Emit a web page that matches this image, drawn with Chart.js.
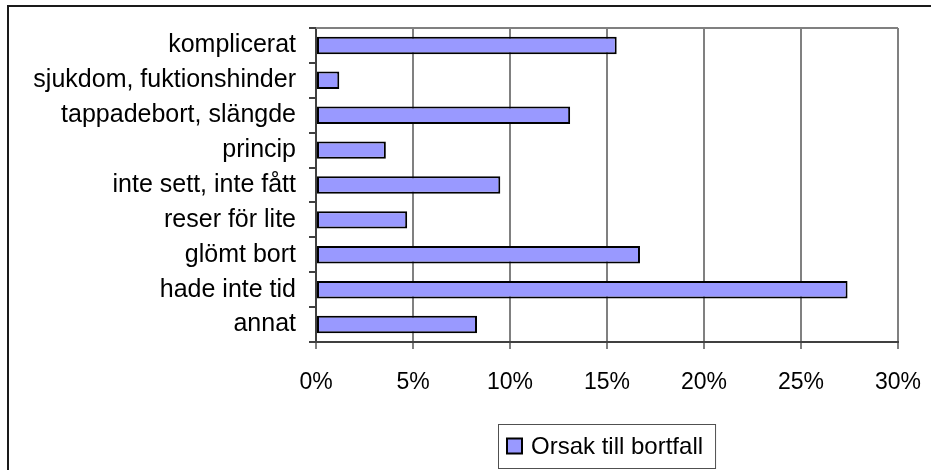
<!DOCTYPE html>
<html>
<head>
<meta charset="utf-8">
<script src="https://cdn.jsdelivr.net/npm/chart.js@4/dist/chart.umd.min.js"></script>
<style>
  body { margin: 0; overflow: hidden; background: #fff; }
  #wrap { position: relative; width: 931px; height: 470px; }
  #frame { position: absolute; left: 7px; top: 5px; width: 1000px; height: 1000px; border: 2px solid #1a1a1a; pointer-events: none; }
</style>
</head>
<body>
<div id="wrap">
  <canvas id="myChart"></canvas>
  <div id="frame"></div>
</div>
<script>
// data
const categories = ['komplicerat', 'sjukdom, fuktionshinder', 'tappadebort, slängde', 'princip',
  'inte sett, inte fått', 'reser för lite', 'glömt bort', 'hade inte tid', 'annat'];
const values = [15.5, 1.2, 13.1, 3.6, 9.5, 4.7, 16.7, 27.4, 8.3];
const seriesName = 'Orsak till bortfall';
const xMin = 0, xMax = 30, xStep = 5;

const fontFamily = 'Arial, "Liberation Sans", sans-serif';
Chart.defaults.font.family = fontFamily;
Chart.defaults.font.size = 23;
Chart.defaults.color = '#000';

// grey line along the top of the plot area
const topBorder = {
  id: 'topBorder',
  afterDraw(chart) {
    const a = chart.chartArea, ctx = chart.ctx;
    ctx.save();
    ctx.strokeStyle = '#808080';
    ctx.lineWidth = 2;
    ctx.beginPath();
    ctx.moveTo(a.left, a.top);
    ctx.lineTo(a.right, a.top);
    ctx.stroke();
    ctx.restore();
  }
};

// boxed legend under the plot, like the old excel one
const boxLegend = {
  id: 'boxLegend',
  afterDraw(chart) {
    const ctx = chart.ctx, a = chart.chartArea;
    const ds = chart.data.datasets[0];
    ctx.save();
    ctx.font = '24px ' + fontFamily;
    const tw = ctx.measureText(ds.label).width;
    const sw = 15, gap = 9, padL = 9, padR = 12;
    const w = padL + sw + gap + tw + padR, h = 44;
    const x = Math.round((a.left + a.right) / 2 - w / 2), y = 424;
    ctx.strokeStyle = '#505050';
    ctx.lineWidth = 1;
    ctx.strokeRect(x + 0.5, y + 0.5, w, h);
    ctx.fillStyle = ds.backgroundColor;
    ctx.fillRect(x + padL, y + h / 2 - sw / 2, sw, sw);
    ctx.strokeStyle = '#000';
    ctx.lineWidth = 2;
    ctx.strokeRect(x + padL, y + h / 2 - sw / 2, sw, sw);
    ctx.fillStyle = '#000';
    ctx.textBaseline = 'middle';
    ctx.fillText(ds.label, x + padL + sw + gap, y + h / 2 + 1);
    ctx.restore();
  }
};

let chart;
function makeChart() {
  const ctx = document.getElementById('myChart');
  const configuration = {
    type: 'bar',
    data: {
      labels: categories,
      datasets: [{
        label: seriesName,
        data: values,
        backgroundColor: '#9999ff',
        borderColor: '#000',
        borderWidth: 2,
        borderSkipped: false,
        categoryPercentage: 1,
        barPercentage: 0.5
      }]
    },
    plugins: [topBorder, boxLegend],
    options: {
      indexAxis: 'y',
      responsive: true,
      maintainAspectRatio: false,
      animation: false,
      layout: { padding: { top: 26, right: 33, bottom: 0, left: 0 } },
      plugins: { legend: { display: false }, tooltip: { enabled: false } },
      scales: {
        x: {
          min: xMin,
          max: xMax,
          ticks: { stepSize: xStep, padding: 20, callback: v => v + '%' },
          grid: { color: '#808080', lineWidth: 2, tickLength: 7 },
          border: { color: '#404040', width: 2 },
          afterFit(scale) {
            scale.height = 128;
            scale.paddingLeft = 0;
            scale.paddingRight = 0;
          }
        },
        y: {
          ticks: { padding: 13, autoSkip: false, font: { size: 25 } },
          grid: { drawOnChartArea: false, color: '#404040', lineWidth: 2, tickLength: 7, offset: true },
          border: { color: '#404040', width: 2 },
          afterFit(scale) { scale.width = 316; }
        }
      }
    }
  };
  if (chart) chart.destroy();
  chart = new Chart(ctx, configuration);
}

window.onload = function () {
  makeChart();
};
</script>
</body>
</html>
